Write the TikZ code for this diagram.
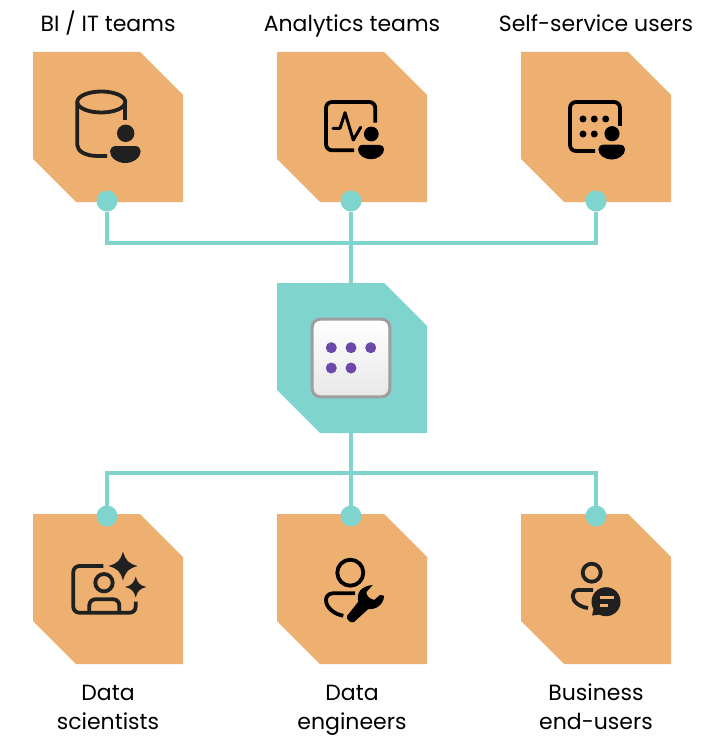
\documentclass[tikz,border=0pt]{standalone}
\usepackage{fontspec}
\setmainfont{Poppins}
\usetikzlibrary{shapes,positioning}
\definecolor{tileorange}{RGB}{237,176,112}
\definecolor{linkteal}{RGB}{127,212,206}
\definecolor{icondark}{RGB}{32,32,32}
\definecolor{dotpurple}{RGB}{107,72,170}
\tikzset{
  person/.pic={
    \fill (0,0) circle (8.7);
    \fill (-9.7,12.7) -- (9.3,12.7) .. controls (13,12.7) and (15,15.5) .. (15,18)
      .. controls (15,24.7) and (7,29.7) .. (-.3,29.7)
      .. controls (-8,29.7) and (-15.7,24.7) .. (-15.7,18)
      .. controls (-15.7,15.5) and (-13.5,12.7) .. (-9.7,12.7) -- cycle;
  },
  sparkle/.pic={
    \fill (0,-1) .. controls (.18,-.36) and (.36,-.18) .. (1,0)
      .. controls (.36,.18) and (.18,.36) .. (0,1)
      .. controls (-.18,.36) and (-.36,.18) .. (-1,0)
      .. controls (-.36,-.18) and (-.18,-.36) .. (0,-1) -- cycle;
  }
}

\begin{document}
\begin{tikzpicture}[x=1pt,y=-1pt,% page is in reference pixels, y runs down
    every node/.style={
      align=center,
      inner sep=0pt,
      outer sep=0pt,
      font=\fontsize{22}{29}\selectfont
    },
    tile/.style={
      rectangle,
      minimum size=150pt,
      path picture={
        \fill[#1] (path picture bounding box.north west)
          -- ([xshift=-43pt]path picture bounding box.north east)
          -- ([yshift=-43pt]path picture bounding box.north east)
          -- (path picture bounding box.south east)
          -- ([xshift=43pt]path picture bounding box.south west)
          -- ([yshift=43pt]path picture bounding box.south west)
          -- cycle;
      }
    },
    caption/.style={text height=15pt,text depth=5pt},
    dotnode/.style={circle,fill=linkteal,minimum size=21pt},
    tick/.style={circle,fill=dotpurple,minimum size=11pt},
    every edge/.style={draw=linkteal,line width=4pt},
    elbow/.style={to path={|- (\tikztotarget)}},
    iconline/.style={draw=icondark,line width=3.8pt,line cap=round,line join=round}
  ]
  \useasboundingbox (0,0) rectangle (702,749);

  % top row
  \node[tile=tileorange](R1) at (108,127){};
  \node[tile=tileorange](R2)[right=94pt of R1]{};
  \node[tile=tileorange](R3)[right=94pt of R2]{};
  \node[caption](L1)[above=15pt of R1]{BI / IT teams};
  \node[caption](L2)[above=15pt of R2]{Analytics teams};
  \node[caption](L3)[above=15pt of R3]{Self-service users};

  % hub
  \node[tile=linkteal](R4)[below=81pt of R2]{};
  \node[rectangle,rounded corners=8pt,minimum size=77.6pt,line width=3pt,draw=black!38,
    top color=white,bottom color=black!9](Hub) at (351,358){};
  \node[tick](H1) at (331.3,347.7){};
  \node[tick](H2) at (351,347.7){};
  \node[tick](H3) at (370.7,347.7){};
  \node[tick](H4) at (331.3,368){};
  \node[tick](H5) at (351,368){};

  % bottom row
  \node[tile=tileorange](R5)[below=81pt of R4]{};
  \node[tile=tileorange](R6)[left=94pt of R5]{};
  \node[tile=tileorange](R7)[right=94pt of R5]{};
  \node(L6)[below=16pt of R6]{\strut Data\\scientists};
  \node(L5)[below=16pt of R5]{\strut Data\\engineers};
  \node(L7)[below=16pt of R7]{\strut Business\\end-users};

  % connectors
  \node[dotnode](D1) at (107,201){};
  \node[dotnode](D2) at (351,201){};
  \node[dotnode](D3) at (596,201){};
  \node[dotnode](D4) at (107,516){};
  \node[dotnode](D5) at (351,516){};
  \node[dotnode](D6) at (596,516){};
  \coordinate (J1) at (351,243);
  \coordinate (J2) at (351,473);
  \path
  (D1)edge [elbow] (J1)
  (D3)edge [elbow] (J1)
  (D2)edge [] (D2 |- R4.north)
  (D2 |- R4.south)edge [] (D5)
  (D4)edge [elbow] (J2)
  (D6)edge [elbow] (J2)
  ;

  % BI / IT icon
  \draw[iconline] (101.3,102) ellipse (24 and 10.5);
  \draw[iconline,line cap=butt] (107,156) -- (98,156) .. controls (85,156) and (77.3,151) .. (77.3,145) -- (77.3,102);
  \draw[iconline,line cap=butt] (125.3,102) -- (125.3,120);
  \pic[icondark] at (125.7,133.3) {person};

  % analytics icon
  \draw[iconline,line cap=butt,draw=black,rounded corners=6pt] (375.3,122.7) -- (375.3,102) -- (326,102) -- (326,150.3) -- (354,150.3);
  \draw[iconline,draw=black,line width=3pt] (333,128.3) -- (340,128.3) -- (345,112.7) -- (353.3,140) -- (360.7,127.3);
  \pic[black,scale=.85] at (371.3,134) {person};

  % self-service icon
  \draw[iconline,line cap=butt,draw=black,rounded corners=6pt] (620,126) -- (620,102) -- (570,102) -- (570,151) -- (595,151);
  \foreach \px/\py in {583/119,594.3/119,605.7/119,583/134,594.3/134}
    \fill[black] (\px,\py) circle (3.5);
  \pic[black,scale=.87] at (612,133.7) {person};

  % data scientists icon
  \draw[iconline,line cap=butt,rounded corners=6pt] (103.3,566) -- (73.3,566) -- (73.3,612.7) -- (135.7,612.7) -- (135.7,601.7);
  \draw[iconline] (104,582.7) circle (8.7);
  \draw[iconline,line cap=butt,rounded corners=6pt] (89.3,612.7) -- (89.3,599.3) -- (119.3,599.3) -- (119.3,612.7);
  \pic[icondark,scale=14.6] at (123,566) {sparkle};
  \pic[icondark,scale=10.5] at (135.7,587) {sparkle};

  % data engineers icon
  \draw[iconline,draw=black] (350.3,572.7) circle (13);
  \draw[iconline,draw=black,line cap=butt] (355,593.3) -- (333,593.3) .. controls (328,593.3) and (326,597) .. (326,600) .. controls (326,608) and (335,614.5) .. (343.3,615.7);
  \fill[black] (372.7,585) -- (366.7,591.7) .. controls (366,595) and (368,598) .. (374,600)
    -- (380,595) -- (384,595.7) .. controls (384,605) and (375,610) .. (368.3,609)
    -- (354,622) .. controls (351,623.5) and (346,620) .. (347,616)
    -- (358.3,601.7) .. controls (356,593) and (361,586) .. (372.7,585) -- cycle;

  % business end-users icon
  \draw[iconline] (591.7,572.7) circle (9);
  \draw[iconline,line cap=butt] (593,590) -- (578,590) .. controls (574.5,590) and (572.7,593) .. (572.7,596) .. controls (572.7,602) and (580,607) .. (588,608);
  \fill[icondark] (606,601.7) circle (14.5);
  \fill[icondark] (592,615.5) -- (595,603) -- (604,614) -- cycle;
  \draw[tileorange,line width=3pt] (600,597.3) -- (614,597.3);
  \draw[tileorange,line width=3pt] (600,605.7) -- (608.3,605.7);
\end{tikzpicture}
\end{document}
